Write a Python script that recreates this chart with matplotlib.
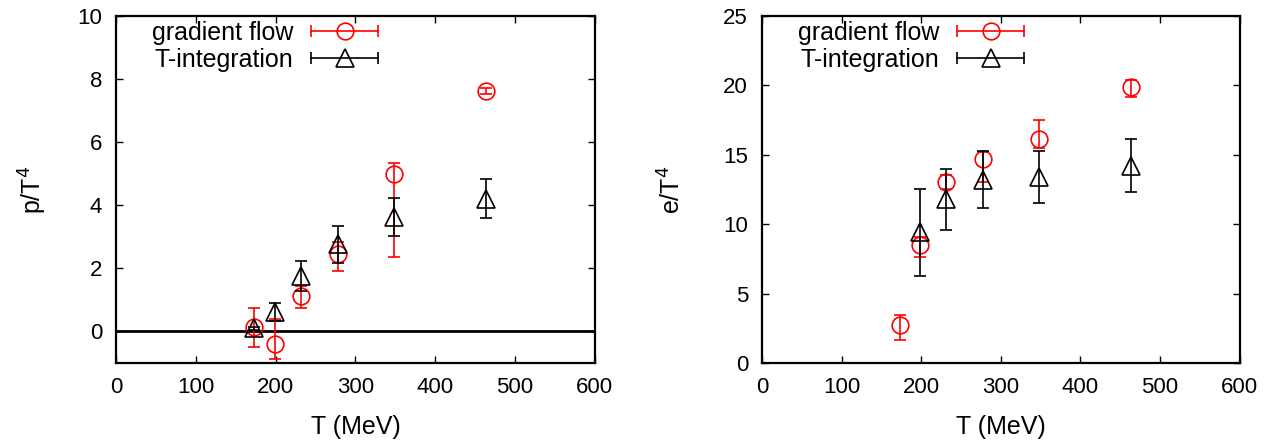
import matplotlib
matplotlib.use("Agg")
import matplotlib.pyplot as plt
from matplotlib.lines import Line2D
from matplotlib.legend_handler import HandlerBase

plt.rcParams['font.family'] = ['Liberation Sans', 'DejaVu Sans']

# ---- data ----
# pressure panel
p_gf_T = [173, 199, 232, 278, 348, 464]
p_gf = [0.13, -0.40, 1.12, 2.44, 5.00, 7.62]
p_gf_lo = [0.62, 0.46, 0.38, 0.52, 2.63, 0.10]
p_gf_hi = [0.60, 0.78, 0.31, 0.40, 0.33, 0.10]

p_ti_T = [173, 199, 232, 278, 348, 464]
p_ti = [0.10, 0.62, 1.75, 2.76, 3.62, 4.20]
p_ti_err = [0.05, 0.28, 0.48, 0.58, 0.60, 0.62]

# energy density panel
e_gf_T = [174, 198, 231, 278, 348, 464]
e_gf = [2.73, 8.50, 13.05, 14.70, 16.10, 19.90]
e_gf_lo = [1.10, 0.90, 0.50, 1.70, 0.60, 0.75]
e_gf_hi = [0.75, 0.60, 0.50, 0.50, 1.40, 0.45]

e_ti_T = [198, 231, 278, 348, 464]
e_ti = [9.40, 11.80, 13.20, 13.40, 14.20]
e_ti_err = [3.10, 2.20, 2.05, 1.90, 1.90]

labels = ['gradient flow', 'T-integration']
TICK_FS = 16
LABEL_FS = 18
LEG_FS = 18


class HandlerHErr(HandlerBase):
    """gnuplot-like legend key: horizontal bar with end caps and a marker."""

    def create_artists(self, legend, orig_handle, xdescent, ydescent,
                       width, height, fontsize, trans):
        y = height / 2 - ydescent
        x0, x1 = -xdescent, width - xdescent
        col = orig_handle.get_color()
        bar = Line2D([x0, x1], [y, y], color=col, lw=1.2, transform=trans)
        caps = Line2D([x0, x1], [y, y], ls='none', marker='|', ms=8,
                      mew=1.2, color=col, transform=trans)
        mk = Line2D([(x0 + x1) / 2], [y], ls='none',
                    marker=orig_handle.get_marker(),
                    ms=orig_handle.get_markersize(), mfc='none', mec=col,
                    mew=1.2, transform=trans)
        return [bar, caps, mk]


def style_axes(ax, ylim, yticks, ylabel, ypad):
    ax.set_xlim(0, 600)
    ax.set_ylim(*ylim)
    ax.set_xticks(range(0, 601, 100))
    ax.set_yticks(yticks)
    ax.tick_params(direction='in', top=True, right=True, length=5,
                   width=1.0, labelsize=TICK_FS, pad=10)
    for s in ax.spines.values():
        s.set_linewidth(1.6)
    ax.set_xlabel('T (MeV)', fontsize=LABEL_FS, labelpad=12)
    ax.set_ylabel(ylabel, fontsize=LABEL_FS, labelpad=ypad)


def draw(ax, gT, g, glo, ghi, tT, t, terr):
    ax.errorbar(gT, g, yerr=[glo, ghi], fmt='o', ms=12, mfc='none',
                mec='red', mew=1.2, ecolor='red', elinewidth=1.2,
                capsize=4, capthick=1.2, zorder=3)
    ax.errorbar(tT, t, yerr=terr, fmt='^', ms=13, mfc='none',
                mec='black', mew=1.2, ecolor='black', elinewidth=1.2,
                capsize=4, capthick=1.2, zorder=4)
    handles = [Line2D([], [], color='red', marker='o', ms=12),
               Line2D([], [], color='black', marker='^', ms=13)]
    ax.legend(handles, labels, loc='upper left', bbox_to_anchor=(0.065, 1.0),
              frameon=False, markerfirst=False, fontsize=LEG_FS,
              handlelength=2.7, handletextpad=0.7, labelspacing=0.12,
              borderaxespad=0.0, borderpad=0.2,
              handler_map={Line2D: HandlerHErr()})


fig = plt.figure(figsize=(12.77, 4.44), dpi=100)
ax1 = fig.add_axes([0.0908, 0.1824, 0.375, 0.782])
ax2 = fig.add_axes([0.5967, 0.1824, 0.374, 0.782])

draw(ax1, p_gf_T, p_gf, p_gf_lo, p_gf_hi, p_ti_T, p_ti, p_ti_err)
ax1.axhline(0, color='black', lw=2.0, zorder=1)
style_axes(ax1, (-1, 10), range(0, 11, 2), 'p/T$^4$', 20)

draw(ax2, e_gf_T, e_gf, e_gf_lo, e_gf_hi, e_ti_T, e_ti, e_ti_err)
style_axes(ax2, (0, 25), range(0, 26, 5), 'e/T$^4$', 27)

fig.savefig('out.png', dpi=100)
